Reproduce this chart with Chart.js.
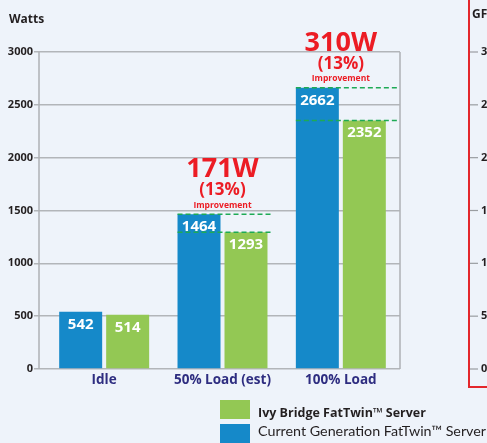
<!DOCTYPE html>
<html>
<head>
<meta charset="utf-8">
<script src="https://cdn.jsdelivr.net/npm/chart.js@4"></script>
<style>
  html, body { margin: 0; padding: 0; background: #eef3fa; overflow: hidden; }
  canvas { display: block; }
</style>
</head>
<body>
<canvas id="powerChart" width="487" height="443"></canvas>
<script>
const categories = ['Idle', '50% Load (est)', '100% Load'];
const currentGen = [542, 1464, 2662];
const ivyBridge = [514, 1293, 2352];
const yTicks = [0, 500, 1000, 1500, 2000, 2500, 3000];
const savingLabels = ['', '171W', '310W'];
const savingPcts = ['', '(13%)', '(13%)'];
const seriesNames = ['Current Generation FatTwin™ Server', 'Ivy Bridge FatTwin™ Server'];

const BOLD = '"Open Sans", Lato, sans-serif';
const PLAIN = 'Lato, "Open Sans", sans-serif';
const BLUE = '#1589c9';
const GREEN = '#93c854';
const RED = '#ec1c24';

const background = {
  id: 'background',
  beforeDraw(chart) {
    const ctx = chart.ctx;
    ctx.save();
    ctx.fillStyle = '#eef3fa';
    ctx.fillRect(0, 0, chart.width, chart.height);
    ctx.restore();
  }
};

// y axis line (sits a bit left of the first category) and right edge
const frame = {
  id: 'frame',
  beforeDatasetsDraw(chart) {
    const { ctx, chartArea: a } = chart;
    ctx.save();
    ctx.strokeStyle = '#aeb1b5';
    ctx.lineWidth = 1.5;
    ctx.beginPath();
    ctx.moveTo(a.left - 6, a.top);
    ctx.lineTo(a.left - 6, a.bottom);
    ctx.moveTo(a.right, a.top);
    ctx.lineTo(a.right, a.bottom);
    ctx.stroke();
    ctx.restore();
  }
};

const valueLabels = {
  id: 'valueLabels',
  afterDatasetsDraw(chart) {
    const ctx = chart.ctx;
    ctx.save();
    ctx.fillStyle = '#ffffff';
    ctx.font = 'bold 15px ' + BOLD;
    ctx.textAlign = 'center';
    ctx.textBaseline = 'alphabetic';
    chart.data.datasets.forEach((ds, di) => {
      chart.getDatasetMeta(di).data.forEach((bar, i) => {
        ctx.fillText(ds.data[i], bar.x, bar.y + 17);
      });
    });
    ctx.restore();
  }
};

const gains = {
  id: 'gains',
  afterDatasetsDraw(chart, args, opts) {
    const ctx = chart.ctx;
    const blue = chart.getDatasetMeta(0).data;
    const green = chart.getDatasetMeta(1).data;
    ctx.save();
    categories.forEach((c, i) => {
      if (!savingLabels[i]) return;
      const b = blue[i], g = green[i];
      const x0 = b.x - b.width / 2;
      const x1 = g.x + g.width / 2 + opts.extra[i];
      ctx.strokeStyle = '#1eaa55';
      ctx.lineWidth = 1.5;
      ctx.setLineDash([5, 3]);
      ctx.beginPath();
      ctx.moveTo(x0, b.y); ctx.lineTo(x1, b.y);
      ctx.moveTo(x0, g.y); ctx.lineTo(x1, g.y);
      ctx.stroke();
      ctx.setLineDash([]);

      const cx = (b.x + g.x) / 2;
      ctx.fillStyle = RED;
      ctx.textAlign = 'center';
      ctx.textBaseline = 'alphabetic';
      ctx.font = 'bold 27px ' + BOLD;
      ctx.fillText(savingLabels[i], cx, b.y - 37);
      ctx.textBaseline = 'middle';
      ctx.font = 'bold 17px ' + BOLD;
      ctx.fillText(savingPcts[i], cx, b.y - 24);
      ctx.font = 'bold 8.5px ' + BOLD;
      ctx.fillText('Improvement', cx, b.y - 9);
    });
    ctx.restore();
  }
};

const extras = {
  id: 'extras',
  afterDraw(chart) {
    const ctx = chart.ctx;
    const y = chart.scales.y;
    ctx.save();
    // axis unit
    ctx.fillStyle = '#231f20';
    ctx.font = 'bold 12px ' + BOLD;
    ctx.textAlign = 'left';
    ctx.textBaseline = 'alphabetic';
    ctx.fillText('Watts', 9, 23);

    // legend, Ivy Bridge first
    const order = [1, 0];
    order.forEach((di, k) => {
      const ds = chart.data.datasets[di];
      ctx.fillStyle = ds.backgroundColor;
      ctx.fillRect(220, 400 + k * 24, 30, 19);
      ctx.fillStyle = '#231f20';
      ctx.font = k === 0 ? 'bold 12.5px ' + BOLD : '14.3px ' + PLAIN;
      ctx.fillText(ds.label, 258, 417 + k * 19);
    });

    // neighbouring panel, cut off at the edge
    ctx.strokeStyle = '#e3262b';
    ctx.lineWidth = 2;
    ctx.strokeRect(469, -10, 100, 397);
    ctx.fillStyle = '#231f20';
    ctx.font = 'bold 12px ' + BOLD;
    ctx.fillText('GFLOPS', 472, 18);
    ctx.font = 'bold 11px ' + BOLD;
    ctx.textBaseline = 'middle';
    yTicks.forEach(v => {
      const py = y.getPixelForValue(v);
      ctx.strokeStyle = '#9a9da1';
      ctx.lineWidth = 1.2;
      ctx.beginPath();
      ctx.moveTo(470, py); ctx.lineTo(478, py);
      ctx.stroke();
      ctx.fillText(String(v), 481, py);
    });
    ctx.restore();
  }
};

new Chart(document.getElementById('powerChart'), {
  type: 'bar',
  data: {
    labels: categories,
    datasets: [
      { label: seriesNames[0], data: currentGen, backgroundColor: BLUE },
      { label: seriesNames[1], data: ivyBridge, backgroundColor: GREEN }
    ]
  },
  options: {
    responsive: false,
    animation: false,
    devicePixelRatio: 1,
    categoryPercentage: 0.794,
    barPercentage: 0.915,
    layout: { padding: { top: 52, right: 87, left: 0, bottom: 0 } },
    plugins: {
      legend: { display: false },
      tooltip: { enabled: false },
      gains: { extra: [0, 4, 12] }
    },
    scales: {
      x: {
        grid: { display: false, drawTicks: false },
        border: { display: false },
        ticks: { color: '#2e2d80', font: { family: BOLD, size: 13.5, weight: 'bold' }, padding: 3 },
        afterFit: s => { s.height = 74; }
      },
      y: {
        min: 0,
        max: 3000,
        afterBuildTicks: s => { s.ticks = yTicks.map(v => ({ value: v })); },
        grid: { color: '#b2b5b9', lineWidth: 1.5, tickLength: 11 },
        border: { display: false },
        ticks: {
          color: '#231f20',
          font: { family: BOLD, size: 11, weight: 'bold' },
          padding: 1,
          callback: v => String(v)
        },
        afterFit: s => { s.width = 45; }
      }
    }
  },
  plugins: [background, frame, valueLabels, gains, extras]
});
</script>
</body>
</html>
